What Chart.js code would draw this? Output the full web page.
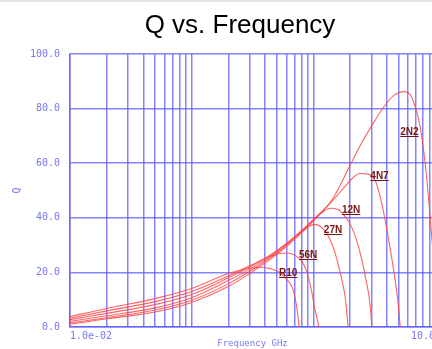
<!DOCTYPE html>
<html><head><meta charset="utf-8">
<script src="https://cdn.jsdelivr.net/npm/chart.js@4.4.1/dist/chart.umd.min.js"></script>
<style>
html,body{margin:0;padding:0;background:#fff;overflow:hidden;width:432px;height:349px;}
#wrap{position:relative;width:432px;height:349px;overflow:hidden;}
canvas{position:absolute;left:0;top:0;}
#topband{position:absolute;left:0;top:0;width:432px;height:2px;background:#e3e3e3;}
</style></head><body>
<div id="wrap"><canvas id="c" width="480" height="349" style="width:480px;height:349px"></canvas><div id="topband"></div></div>
<script>
// ---- data (frequency in GHz, Q) ----
const r10Freq = [0.01, 0.02, 0.05, 0.1, 0.2, 0.3, 0.38, 0.45, 0.52, 0.58, 0.63, 0.67, 0.71, 0.74, 0.765];
const r10Q    = [3.8, 6.8, 10.4, 14.1, 19.6, 21.5, 21.9, 21.3, 20.2, 18.4, 16.5, 14.5, 10.5, 5.5, 0];

const n56Freq = [0.01, 0.02, 0.05, 0.1, 0.2, 0.3, 0.43, 0.52, 0.6, 0.7, 0.8, 0.87, 0.95, 1.03, 1.08, 1.11];
const n56Q    = [3.2, 5.9, 9.3, 13.0, 18.7, 22.4, 25.6, 26.8, 27.1, 26.4, 24.2, 21.0, 15.0, 6.5, 2.5, 0];

const n27Freq = [0.01, 0.02, 0.05, 0.1, 0.2, 0.3, 0.43, 0.6, 0.8, 0.95, 1.05, 1.2, 1.34, 1.5, 1.62, 1.75, 1.84, 1.93];
const n27Q    = [2.7, 5.0, 8.2, 11.9, 18.0, 22.0, 26.0, 30.5, 35.0, 37.2, 37.5, 36.0, 33.0, 27.5, 22.0, 15.5, 10.0, 0];

const n12Freq = [0.01, 0.02, 0.05, 0.1, 0.2, 0.3, 0.43, 0.6, 0.8, 1.0, 1.2, 1.38, 1.6, 1.8, 2.02, 2.22, 2.51, 2.7, 2.85, 2.96, 3.03];
const n12Q    = [2.1, 4.1, 7.0, 10.7, 17.0, 21.2, 25.6, 30.5, 35.3, 39.3, 42.2, 43.5, 43.0, 40.8, 37.5, 33.0, 24.5, 17.5, 12.0, 6.0, 0];

const n4n7Freq = [0.01, 0.02, 0.05, 0.1, 0.2, 0.3, 0.43, 0.6, 0.8, 1.0, 1.42, 1.8, 2.1, 2.4, 2.8, 3.24, 3.66, 4.16, 4.71, 5.0, 5.18];
const n4n7Q    = [1.5, 3.4, 6.2, 9.8, 15.8, 20.4, 25.0, 30.0, 35.0, 39.3, 46.0, 51.2, 54.5, 56.2, 56.0, 53.5, 45.0, 32.0, 17.0, 8.0, 0];

const n2n2Freq = [0.01, 0.02, 0.05, 0.1, 0.2, 0.3, 0.43, 0.6, 0.8, 1.0, 1.42, 2.02, 2.5, 3.0, 3.78, 4.5, 5.5, 6.2, 6.87, 7.55, 8.3, 8.83, 9.17, 9.6, 10.0, 10.4];
const n2n2Q    = [1.0, 3.0, 5.5, 9.0, 14.8, 19.6, 24.4, 29.5, 34.5, 38.8, 46.5, 59.5, 67.5, 73.5, 80.5, 84.5, 86.2, 85.3, 80.7, 73.4, 60.0, 47.7, 39.2, 28.0, 16.0, 0];

const seriesNames = ['R10', '56N', '27N', '12N', '4N7', '2N2'];
const seriesFreqs = [r10Freq, n56Freq, n27Freq, n12Freq, n4n7Freq, n2n2Freq];
const seriesQs    = [r10Q, n56Q, n27Q, n12Q, n4n7Q, n2n2Q];

// curve name label anchors (left edge freq, Q at underline)
const labelFreq = [0.523, 0.762, 1.22, 1.72, 2.94, 5.18];
const labelQ    = [17.9, 24.7, 33.6, 41.0, 53.6, 69.5];

// axis ticks
const xGridValues = [0.01,0.02,0.03,0.04,0.05,0.06,0.07,0.08,0.09,
                     0.1,0.2,0.3,0.4,0.5,0.6,0.7,0.8,0.9,
                     1,2,3,4,5,6,7,8,9,10];
const xLabelValues = [0.01, 10];
const xLabelTexts  = ['1.0e-02', '10.0'];
const yTickValues  = [0, 20, 40, 60, 80, 100];

// ---- styles ----
const gridColor = 'rgba(85,85,255,0.72)';
const axisText = '#7777f2';
const monoFont = {family: '"DejaVu Sans Mono", "Liberation Mono", monospace', size: 10};

const datasets = seriesNames.map((name, k) => ({
  label: name,
  data: seriesFreqs[k].map((f, i) => ({x: f, y: seriesQs[k][i]})),
  borderColor: 'rgba(255,70,70,0.85)',
  borderWidth: 1.1,
  pointRadius: 0,
  fill: false,
  cubicInterpolationMode: 'monotone'
}));

const curveLabelPlugin = {
  id: 'curveLabels',
  afterDatasetsDraw(chart) {
    const {ctx, scales: {x, y}} = chart;
    ctx.save();
    ctx.font = 'bold 10px "Liberation Sans", Arial, sans-serif';
    ctx.fillStyle = '#7a1414';
    ctx.strokeStyle = '#7a1414';
    ctx.lineWidth = 1;
    ctx.textAlign = 'left';
    ctx.textBaseline = 'alphabetic';
    seriesNames.forEach((t, i) => {
      const px = x.getPixelForValue(labelFreq[i]);
      const py = y.getPixelForValue(labelQ[i]);
      ctx.fillText(t, px, py - 2);
      const w = ctx.measureText(t).width;
      ctx.beginPath();
      ctx.moveTo(px, Math.round(py) - 0.5);
      ctx.lineTo(px + w, Math.round(py) - 0.5);
      ctx.stroke();
    });
    ctx.restore();
  }
};

// center the title across the whole canvas
const titleSpanPlugin = {
  id: 'titleSpan',
  afterLayout(chart) {
    const t = chart.titleBlock;
    if (t) { t.left = 0; t.right = chart.width; t.width = chart.width; }
  }
};

new Chart(document.getElementById('c'), {
  type: 'line',
  data: {datasets},
  options: {
    responsive: false,
    animation: false,
    devicePixelRatio: 1,
    layout: {padding: {left: 0, right: 45, top: 0, bottom: 0}},
    plugins: {
      legend: {display: false},
      tooltip: {enabled: false},
      title: {
        display: true, text: 'Q vs. Frequency', color: '#000',
        font: {family: '"Liberation Sans", Arial, sans-serif', size: 26, weight: 'normal', lineHeight: 1.2},
        padding: {top: 10, bottom: 12.8}
      }
    },
    scales: {
      x: {
        type: 'logarithmic', min: 0.01, max: 10,
        afterBuildTicks: s => { s.ticks = xGridValues.map(v => ({value: v})); },
        afterFit: s => { s.height = 22; },
        ticks: {
          autoSkip: false, maxRotation: 0, minRotation: 0, align: 'inner', padding: 3,
          color: axisText, font: monoFont,
          callback: v => { const i = xLabelValues.indexOf(v); return i >= 0 ? xLabelTexts[i] : ''; }
        },
        grid: {color: gridColor, lineWidth: 1.5, drawTicks: false},
        border: {color: gridColor, width: 1.5},
        title: {display: true, text: 'Frequency GHz', color: axisText,
          font: {family: '"DejaVu Sans Mono", monospace', size: 9}, padding: {top: 0, bottom: 0}}
      },
      y: {
        type: 'linear', min: 0, max: 100,
        afterBuildTicks: s => { s.ticks = yTickValues.map(v => ({value: v})); },
        afterFit: s => { s.width = 70; },
        ticks: {padding: 10, color: axisText, font: monoFont, callback: v => Number(v).toFixed(1)},
        grid: {color: gridColor, lineWidth: 1.5, drawTicks: false},
        border: {color: gridColor, width: 1.5},
        title: {display: true, text: 'Q', color: axisText,
          font: {family: '"DejaVu Sans Mono", monospace', size: 10}, padding: {top: 11.5, bottom: 0}}
      }
    }
  },
  plugins: [curveLabelPlugin, titleSpanPlugin]
});
</script>
</body></html>
